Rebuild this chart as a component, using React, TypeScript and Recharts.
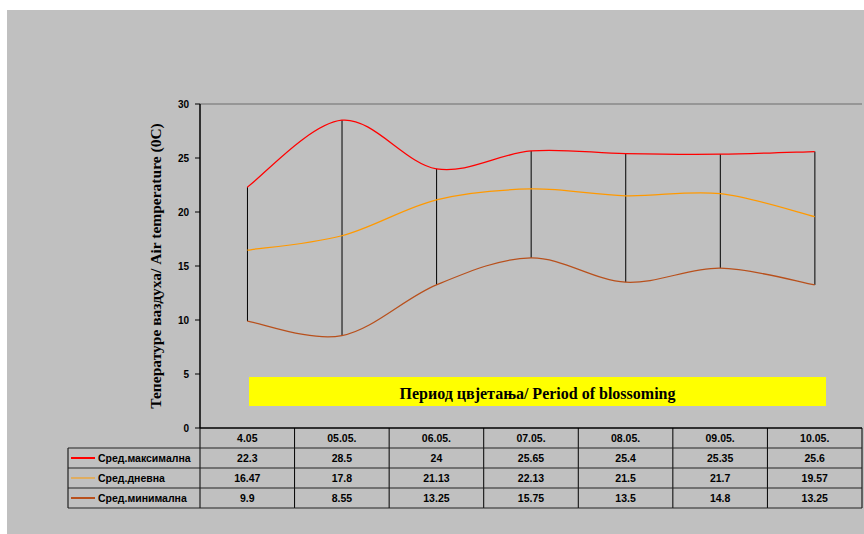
import { ComposedChart, Line, Bar, XAxis, YAxis, ReferenceLine } from 'recharts';

// daily means during the blossoming period
const days = ['4.05', '05.05.', '06.05.', '07.05.', '08.05.', '09.05.', '10.05.'];
const maxTemp = [22.3, 28.5, 24, 25.65, 25.4, 25.35, 25.6];
const avgTemp = [16.47, 17.8, 21.13, 22.13, 21.5, 21.7, 19.57];
const minTemp = [9.9, 8.55, 13.25, 15.75, 13.5, 14.8, 13.25];
const yTicks = [0, 5, 10, 15, 20, 25, 30];

const series = [
  { key: 'max', name: 'Сред.максимална', color: '#ff0000', values: maxTemp, keyWidth: 2 },
  { key: 'avg', name: 'Сред.дневна', color: '#ff9900', values: avgTemp, keyWidth: 1 },
  { key: 'min', name: 'Сред.минимална', color: '#b8501c', values: minTemp, keyWidth: 2 },
];

const data = days.map((day, i) => ({
  day,
  max: maxTemp[i],
  avg: avgTemp[i],
  min: minTemp[i],
}));

const W = 857;
const H = 524;
const ROW_H = 20;
const LABEL_COL_W = 132;
const SANS = '"Liberation Sans", Arial, sans-serif';
const SERIF = '"Liberation Serif", "Times New Roman", serif';

// smoothed line through every point (Catmull-Rom as bezier segments)
function smoothCurve(context: any) {
  let pts: number[][] = [];
  return {
    areaStart() {},
    areaEnd() {},
    lineStart() {
      pts = [];
    },
    lineEnd() {
      if (!pts.length) return;
      context.moveTo(pts[0][0], pts[0][1]);
      for (let i = 0; i < pts.length - 1; i++) {
        const p0 = pts[Math.max(i - 1, 0)];
        const p1 = pts[i];
        const p2 = pts[i + 1];
        const p3 = pts[Math.min(i + 2, pts.length - 1)];
        context.bezierCurveTo(
          p1[0] + (p2[0] - p0[0]) / 6,
          p1[1] + (p2[1] - p0[1]) / 6,
          p2[0] - (p3[0] - p1[0]) / 6,
          p2[1] - (p3[1] - p1[1]) / 6,
          p2[0],
          p2[1]
        );
      }
    },
    point(x: number, y: number) {
      pts.push([+x, +y]);
    },
  };
}

// vertical line from min to max at the band centre
function HighLow(props: any) {
  const { x, y, width, height } = props;
  if (x == null || height == null) return null;
  const cx = x + width / 2;
  return <line x1={cx} y1={y} x2={cx} y2={y + height} stroke="#000" strokeWidth={1} />;
}

// each x tick draws one column of the data table under the plot
function TableTick(props: any) {
  const { x, y, payload } = props;
  const i = payload.index;
  const half = payload.offset || 662 / days.length / 2;
  const left = x - half;
  const right = x + half;
  const bottom = y + ROW_H * 4;
  const textStyle = { fontFamily: SANS, fontSize: 10.5, fontWeight: 'bold' as const, fill: '#000' };
  return (
    <g>
      {i === 0 && <line x1={left} y1={y} x2={left} y2={bottom} stroke="#000" />}
      <line x1={right} y1={y} x2={right} y2={bottom} stroke="#000" />
      {[1, 2, 3, 4].map((r) => (
        <line key={r} x1={left} y1={y + r * ROW_H} x2={right} y2={y + r * ROW_H} stroke="#222" />
      ))}
      <text x={x} y={y + 14} textAnchor="middle" {...textStyle}>
        {payload.value}
      </text>
      {series.map((s, r) => (
        <text key={s.key} x={x} y={y + ROW_H * (r + 1) + 14} textAnchor="middle" {...textStyle}>
          {String(s.values[i])}
        </text>
      ))}
      {i === 0 && (
        <g>
          <line x1={left - LABEL_COL_W} y1={y + ROW_H} x2={left - LABEL_COL_W} y2={bottom} stroke="#000" />
          {[1, 2, 3, 4].map((r) => (
            <line
              key={r}
              x1={left - LABEL_COL_W}
              y1={y + r * ROW_H}
              x2={left}
              y2={y + r * ROW_H}
              stroke="#222"
            />
          ))}
          {series.map((s, r) => {
            const cy = y + ROW_H * (r + 1) + ROW_H / 2;
            return (
              <g key={s.key}>
                <line
                  x1={left - LABEL_COL_W + 3}
                  y1={cy}
                  x2={left - LABEL_COL_W + 27}
                  y2={cy}
                  stroke={s.color}
                  strokeWidth={s.keyWidth}
                />
                <text x={left - LABEL_COL_W + 30} y={cy + 4} {...textStyle}>
                  {s.name}
                </text>
              </g>
            );
          })}
        </g>
      )}
    </g>
  );
}

function AxisTitle(props: any) {
  const { viewBox } = props;
  const x = viewBox.x + 15;
  const y = viewBox.y + viewBox.height / 2;
  return (
    <text
      x={x}
      y={y}
      transform={`rotate(-90 ${x} ${y})`}
      textAnchor="middle"
      dominantBaseline="central"
      fontFamily={SERIF}
      fontSize={15.5}
      fontWeight="bold"
      fill="#000"
    >
      Тепературе ваздуха/ Air temperature  (0C)
    </text>
  );
}

export default function App() {
  return (
    <div style={{ position: 'absolute', left: 7, top: 10, width: W, height: H, background: '#c0c0c0' }}>
      <ComposedChart width={W} height={H} data={data} margin={{ top: 94, right: 2, bottom: 26, left: 133 }}>
        <XAxis
          dataKey="day"
          scale="band"
          interval={0}
          height={80}
          tickSize={0}
          tickMargin={0}
          tickLine={false}
          axisLine={{ stroke: '#000', strokeWidth: 1.5 }}
          tick={<TableTick />}
        />
        <YAxis
          domain={[0, 30]}
          ticks={yTicks}
          width={60}
          tickSize={5}
          tickMargin={6}
          axisLine={{ stroke: '#000', strokeWidth: 1.5 }}
          tickLine={{ stroke: '#000' }}
          tick={{ fill: '#000', fontSize: 10, fontWeight: 'bold', fontFamily: SANS }}
          label={<AxisTitle />}
        />
        <YAxis
          yAxisId="frame"
          orientation="right"
          domain={[0, 30]}
          width={0}
          tick={false}
          tickLine={false}
          axisLine={{ stroke: '#888', strokeWidth: 1.5 }}
        />
        <ReferenceLine y={30} stroke="#888" strokeWidth={1.5} />
        <Bar dataKey={(d: any) => [d.min, d.max]} shape={<HighLow />} isAnimationActive={false} />
        {series.map((s) => (
          <Line
            key={s.key}
            dataKey={s.key}
            name={s.name}
            type={smoothCurve as any}
            stroke={s.color}
            strokeWidth={1.25}
            dot={false}
            activeDot={false}
            isAnimationActive={false}
          />
        ))}
      </ComposedChart>
      <div
        style={{
          position: 'absolute',
          left: 242,
          top: 367,
          width: 577,
          height: 29,
          background: '#ffff00',
          display: 'flex',
          alignItems: 'center',
          justifyContent: 'center',
          fontFamily: SERIF,
          fontWeight: 'bold',
          fontSize: 16,
          color: '#000',
          paddingTop: 4,
          boxSizing: 'border-box',
        }}
      >
        Период цвјетања/ Period of blossoming
      </div>
    </div>
  );
}
